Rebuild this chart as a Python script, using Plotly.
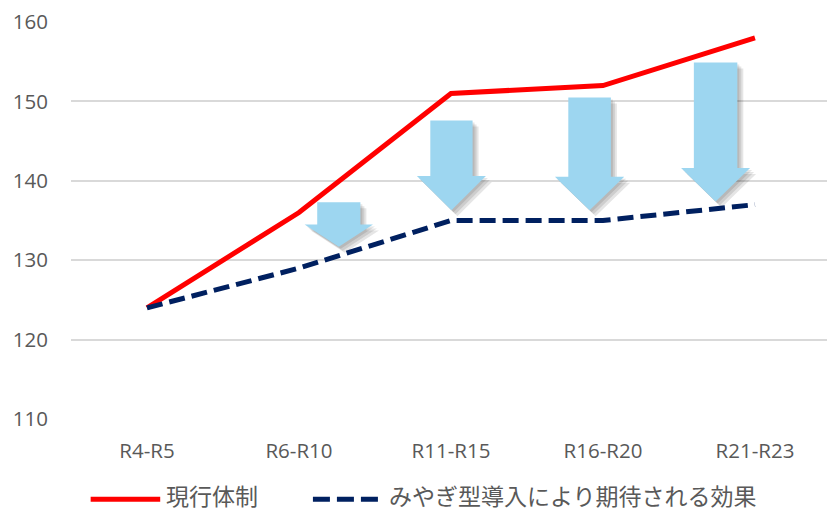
import plotly.graph_objects as go

categories = ["R4-R5", "R6-R10", "R11-R15", "R16-R20", "R21-R23"]
current_values = [124, 136, 151, 152, 158]
miyagi_values = [124, 129, 135, 135, 137]
y_ticks = [110, 120, 130, 140, 150, 160]
series_names = ["現行体制", "みやぎ型導入により期待される効果"]

# decorative arrows: (x centre, shaft half width, head half width, top, head start, tip) in data units
arrows = [
    (1.262, 0.142, 0.225, 137.3, 134.5, 131.7),
    (2.003, 0.139, 0.227, 147.6, 140.6, 136.3),
    (2.912, 0.140, 0.228, 150.5, 140.5, 136.3),
    (3.741, 0.143, 0.227, 154.9, 141.6, 137.4),
]

RED = "#FF0000"
NAVY = "#002060"
ARROW = "#9DD6F0"
TXT = "#595959"
FONT = "Open Sans, Noto Sans CJK JP, sans-serif"

fig = go.Figure()
x_idx = list(range(len(categories)))
fig.add_trace(go.Scatter(x=x_idx, y=current_values, mode="lines", name=series_names[0],
                         line=dict(color=RED, width=5), showlegend=False))
fig.add_trace(go.Scatter(x=x_idx, y=miyagi_values, mode="lines", name=series_names[1],
                         line=dict(color=NAVY, width=5, dash="16px,7px"), showlegend=False))


def arrow_path(xc, sw, hw, top, hy, tip, dx=0.0, dy=0.0):
    pts = [(xc - sw, top), (xc + sw, top), (xc + sw, hy), (xc + hw, hy),
           (xc, tip), (xc - hw, hy), (xc - sw, hy)]
    return "M " + " L ".join(f"{x + dx},{y + dy}" for x, y in pts) + " Z"


shapes = []
px_x = 1 / 152.0
px_y = 50 / 397.0
for (xc, sw, hw, top, hy, tip) in arrows:
    for k in (2, 4, 6):
        shapes.append(dict(type="path", xref="x", yref="y",
                           path=arrow_path(xc, sw, hw, top, hy, tip, k * px_x, -k * px_y),
                           fillcolor="rgba(0,0,0,0.10)", line=dict(width=0), layer="above"))
    shapes.append(dict(type="path", xref="x", yref="y",
                       path=arrow_path(xc, sw, hw, top, hy, tip),
                       fillcolor=ARROW, line=dict(width=0), layer="above"))

# manual legend
line_y = -0.202
text_y = -0.194
shapes.append(dict(type="line", xref="paper", yref="paper", x0=0.026, x1=0.118, y0=line_y, y1=line_y,
                   line=dict(color=RED, width=5)))
shapes.append(dict(type="line", xref="paper", yref="paper", x0=0.320, x1=0.409, y0=line_y, y1=line_y,
                   line=dict(color=NAVY, width=5, dash="17px,7px")))
annotations = [
    dict(text=series_names[0], xref="paper", yref="paper", x=0.124, y=text_y, xanchor="left",
         yanchor="middle", showarrow=False, borderpad=0, font=dict(size=23, color=TXT, family=FONT)),
    dict(text=series_names[1], xref="paper", yref="paper", x=0.419, y=text_y, xanchor="left",
         yanchor="middle", showarrow=False, borderpad=0, font=dict(size=23, color=TXT, family=FONT)),
]

fig.update_layout(
    width=827, height=512,
    margin=dict(l=71, r=0, t=22, b=93),
    paper_bgcolor="white", plot_bgcolor="white",
    font=dict(family=FONT, size=20.5, color=TXT),
    shapes=shapes, annotations=annotations,
    xaxis=dict(range=[-0.5, 4.474], tickmode="array", tickvals=x_idx, ticktext=categories,
               showgrid=False, zeroline=False, showline=False, ticklabelstandoff=17,
               tickfont=dict(size=20.5, color=TXT)),
    yaxis=dict(range=[110, 160], tickvals=y_ticks, showgrid=True, gridcolor="#D9D9D9",
               gridwidth=1.5, zeroline=False, showline=False, ticklabelstandoff=22,
               tickfont=dict(size=20.5, color=TXT)),
)

fig.write_html("out.html")
